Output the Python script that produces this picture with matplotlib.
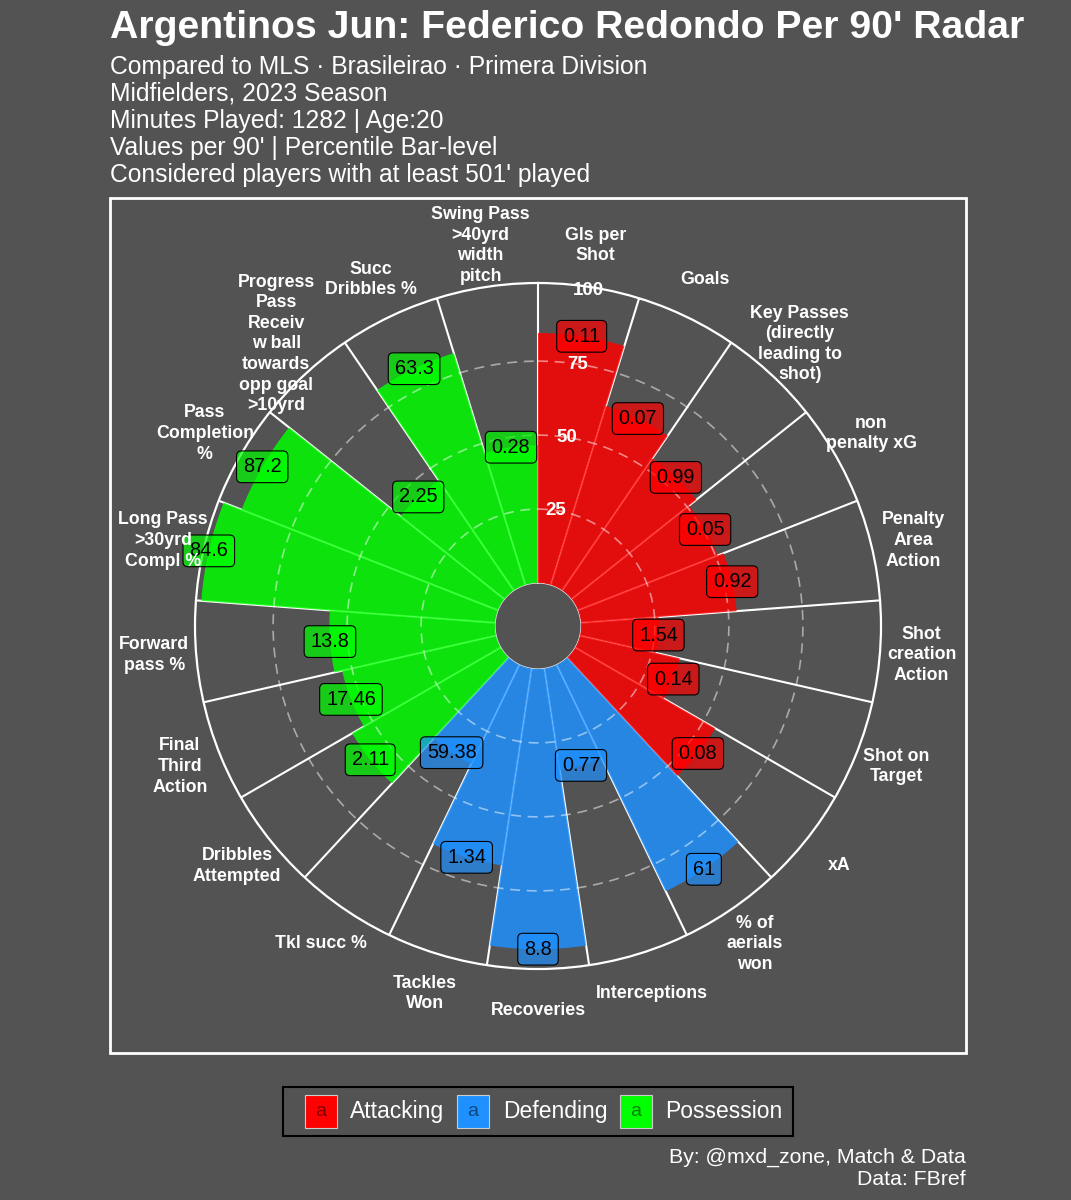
import numpy as np
import matplotlib.pyplot as plt
from matplotlib.patches import Rectangle
from matplotlib.colors import to_rgba

plt.rcParams['font.family'] = ['Liberation Sans', 'DejaVu Sans']

BG = '#535353'
W, H = 1071, 1200

categories = [
    'Gls per\nShot', 'Goals', 'Key Passes\n(directly\nleading to\nshot)', 'non\npenalty xG',
    'Penalty\nArea\nAction', 'Shot\ncreation\nAction', 'Shot on\nTarget', 'xA',
    '% of\naerials\nwon', 'Interceptions', 'Recoveries', 'Tackles\nWon', 'Tkl succ %',
    'Dribbles\nAttempted', 'Final\nThird\nAction', 'Forward\npass %',
    'Long Pass\n>30yrd\nCompl %', 'Pass\nCompletion\n%',
    'Progress\nPass\nReceiv\nw ball\ntowards\nopp goal\n>10yrd',
    'Succ\nDribbles %', 'Swing Pass\n>40yrd\nwidth\npitch',
]
groups = ['Attacking'] * 8 + ['Defending'] * 5 + ['Possession'] * 8
per90 = [0.11, 0.07, 0.99, 0.05, 0.92, 1.54, 0.14, 0.08,
         61, 0.77, 8.8, 1.34, 59.38,
         2.11, 17.46, 13.8, 84.6, 87.2, 2.25, 63.3, 0.28]
percentile = [84.5, 63.3, 54, 50.7, 52.8, 26.3, 34.6, 54.6,
              85, 34.8, 94.7, 67.3, 37.3,
              58, 53.4, 56, 99.6, 93.1, 45, 82, 46.6]
group_names = ['Attacking', 'Defending', 'Possession']
group_colors = {'Attacking': '#FF0000', 'Defending': '#1E90FF', 'Possession': '#00FF00'}
grid_levels = [25, 50, 75, 100]

title = "Argentinos Jun: Federico Redondo Per 90' Radar"
subtitle = ["Compared to MLS \u00b7 Brasileirao \u00b7 Primera Division",
            "Midfielders, 2023 Season",
            "Minutes Played: 1282 | Age:20",
            "Values per 90' | Percentile Bar-level",
            "Considered players with at least 501' played"]
caption = ["By: @mxd_zone, Match & Data", "Data: FBref"]


def fx(x):
    return x / W


def fy(y):
    return 1 - y / H


fig = plt.figure(figsize=(W / 100, H / 100), dpi=100, facecolor=BG)

# titles
fig.text(fx(110), fy(38), title, color='white', fontsize=28.3, fontweight='bold', va='baseline')
for k, line in enumerate(subtitle):
    fig.text(fx(110), fy(74 + 27 * k), line, color='white', fontsize=17.7, va='baseline')

# panel border
fig.add_artist(Rectangle((fx(110), fy(1053)), (966 - 110) / W, (1053 - 198) / H,
                         transform=fig.transFigure, fill=False, ec='white', lw=2))

# polar plot
RMAX, RORIG = 101.4, -14.5
cx, cy, R = 538, 626, 343
ax = fig.add_axes([fx(cx - R), fy(cy + R), 2 * R / W, 2 * R / H], projection='polar')
ax.set_facecolor(BG)
ax.set_theta_zero_location('N')
ax.set_theta_direction(-1)
ax.set_ylim(0, RMAX)
ax.set_rorigin(RORIG)
ax.grid(False)
ax.set_xticks([])
ax.set_yticks([])
ax.spines['polar'].set_color('white')
ax.spines['polar'].set_linewidth(1.6)
ax.spines['inner'].set_color('#dddddd')
ax.spines['inner'].set_linewidth(0.8)

n = len(categories)
width = 2 * np.pi / n
theta = (np.arange(n) + 0.5) * width
colors = [group_colors[g] for g in groups]

for i in range(n):
    ax.plot([i * width, i * width], [0, RMAX], color='white', lw=1.5, zorder=2,
            solid_capstyle='butt')

ax.bar(theta, percentile, width=width, bottom=0, color=colors, alpha=0.84,
       linewidth=0, zorder=3)

t = np.linspace(0, 2 * np.pi, 500)
for lvl in grid_levels[:-1]:
    ax.plot(t, np.full_like(t, lvl), color='white', alpha=0.5, lw=1.2,
            ls=(0, (6, 4)), zorder=4)

for lvl in grid_levels:
    ax.text(theta[0], lvl, str(lvl), color='white', fontsize=13.5, fontweight='bold',
            ha='center', va='center', zorder=6)

for i in range(n):
    ax.text(theta[i], percentile[i], f'{per90[i]:g}', fontsize=14.3, color='black',
            ha='center', va='center', zorder=8,
            bbox=dict(boxstyle='round,pad=0.32,rounding_size=0.25',
                      fc=to_rgba(colors[i], 0.7), ec='black', lw=0.8))
    ax.text(theta[i], 115.5, categories[i], color='white', fontsize=12.8,
            fontweight='bold', ha='center', va='center', linespacing=1.28,
            clip_on=False, zorder=8)

# legend
fig.add_artist(Rectangle((fx(283), fy(1136)), (793 - 283) / W, (1136 - 1087) / H,
                         transform=fig.transFigure, fc=BG, ec='black', lw=1.5))
key_x = [305, 457, 620]
text_x = [350, 503, 665]
for g, kx, tx in zip(group_names, key_x, text_x):
    fig.add_artist(Rectangle((fx(kx), fy(1128)), 32 / W, 33 / H, transform=fig.transFigure,
                             fc=group_colors[g], ec='#cccccc', lw=0.8))
    fig.text(fx(kx + 16), fy(1111.5), 'a', fontsize=14, color=(0, 0, 0, 0.5),
             ha='center', va='center')
    fig.text(fx(tx), fy(1118), g, color='white', fontsize=16.5, va='baseline')

# caption
fig.text(fx(966), fy(1163), caption[0], color='white', fontsize=15.3, ha='right', va='baseline')
fig.text(fx(966), fy(1185), caption[1], color='white', fontsize=15.3, ha='right', va='baseline')

fig.savefig('out.png', dpi=100, facecolor=BG)
